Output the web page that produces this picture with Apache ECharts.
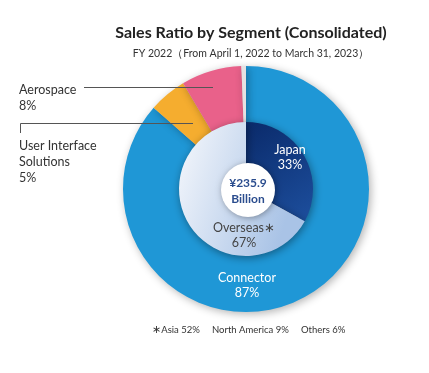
<!DOCTYPE html>
<html><head><meta charset="utf-8">
<script src="https://cdn.jsdelivr.net/npm/echarts@6/dist/echarts.min.js"></script>
<style>html,body{margin:0;padding:0;background:#fff}#c{width:429px;height:373px}</style>
</head><body><div id="c"></div>
<script>
const segments = ['Connector', 'User Interface Solutions', 'Aerospace'];
const segmentShares = [87, 5, 8];
const separatorShare = 0.6;
const regions = ['Japan', 'Overseas'];
const regionShares = [33, 67];
const totalLines = ['¥235.9', 'Billion'];
const overseasNames = ['Asia', 'North America', 'Others'];
const overseasShares = [52, 9, 6];

const F = 'Lato, "Open Sans", sans-serif';
const cx = 246, cy = 189;
const chart = echarts.init(document.getElementById('c'), null, {renderer: 'canvas'});

const segColors = ['#1f97d6', '#f5ad2f', '#e9618a'];
const navy = new echarts.graphic.LinearGradient(0, 0, 1, 1, [{offset: 0, color: '#0a2a6a'}, {offset: 1, color: '#1d4f9e'}]);
const light = new echarts.graphic.LinearGradient(0, 0, 1, 0.3, [{offset: 0, color: '#f6f8fc'}, {offset: 1, color: '#a9c3e6'}]);

const outerData = segments.map((n, i) => ({name: n, value: segmentShares[i], itemStyle: {color: segColors[i]}}));
outerData.push({name: 'sep', value: separatorShare, itemStyle: {color: '#e6e1e1'}});

const footText = '{a|∗}' + overseasNames.map((n, i) => n + ' ' + overseasShares[i] + '%').join('     ');

chart.setOption({
  animation: false,
  title: [
    {text: 'Sales Ratio by Segment (Consolidated)', left: cx, top: 20, textAlign: 'center',
     textStyle: {fontFamily: F, fontSize: 16, fontWeight: 'bold', color: '#222'}},
    {text: 'FY 2022（From April 1, 2022 to March 31, 2023）', left: cx, top: 43, textAlign: 'center',
     textStyle: {fontFamily: F, fontSize: 10.5, fontWeight: 'normal', color: '#333'}}
  ],
  series: [
    {type: 'pie', center: [cx, cy], radius: [60, 123], startAngle: 90, clockwise: true, silent: true,
     label: {show: false}, labelLine: {show: false},
     itemStyle: {shadowBlur: 8, shadowColor: 'rgba(0,0,0,0.3)', shadowOffsetX: 2, shadowOffsetY: 2},
     data: outerData},
    {type: 'pie', center: [cx, cy], radius: [0, 67], startAngle: 90, clockwise: true, silent: true,
     label: {show: false}, labelLine: {show: false},
     itemStyle: {shadowBlur: 8, shadowColor: 'rgba(0,0,0,0.4)', shadowOffsetX: 1, shadowOffsetY: 2},
     data: regions.map((n, i) => ({name: n, value: regionShares[i], itemStyle: {color: i === 0 ? navy : light}}))}
  ],
  graphic: [
    {type: 'circle', shape: {cx: cx + 2, cy: cy + 1, r: 27}, style: {fill: '#fff', shadowBlur: 6, shadowColor: 'rgba(0,0,0,0.35)', shadowOffsetX: 1, shadowOffsetY: 1}, z: 100},
    {type: 'text', x: cx + 2, y: cy - 6, style: {text: totalLines[0], fontFamily: F, fontSize: 12, fontWeight: 'bold', fill: '#2b4d8e', align: 'center', verticalAlign: 'middle'}, z: 101},
    {type: 'text', x: cx + 2, y: cy + 10, style: {text: totalLines[1], fontFamily: F, fontSize: 12, fontWeight: 'bold', fill: '#2b4d8e', align: 'center', verticalAlign: 'middle'}, z: 101},
    {type: 'text', x: 290, y: 157, style: {text: regions[0] + '\n' + regionShares[0] + '%', lineHeight: 15, fontFamily: F, fontSize: 12.5, fill: '#fff', align: 'center', verticalAlign: 'middle'}, z: 101},
    {type: 'text', x: 244, y: 235, style: {text: regions[1] + '∗\n' + regionShares[1] + '%', lineHeight: 15, fontFamily: F, fontSize: 12.5, fill: '#444', align: 'center', verticalAlign: 'middle'}, z: 101},
    {type: 'text', x: 247, y: 285, style: {text: segments[0] + '\n' + segmentShares[0] + '%', lineHeight: 15, fontFamily: F, fontSize: 12.5, fill: '#fff', align: 'center', verticalAlign: 'middle'}, z: 101},
    {type: 'text', x: 19, y: 82, style: {text: segments[2] + '\n' + segmentShares[2] + '%', lineHeight: 16, fontFamily: F, fontSize: 12.5, fill: '#333', align: 'left', verticalAlign: 'top'}, z: 101},
    {type: 'text', x: 19, y: 138, style: {text: 'User Interface\nSolutions\n' + segmentShares[1] + '%', lineHeight: 16, fontFamily: F, fontSize: 12.5, fill: '#333', align: 'left', verticalAlign: 'top'}, z: 101},
    {type: 'polyline', shape: {points: [[84, 87.5], [213, 87.5]]}, style: {stroke: '#555', lineWidth: 1}, z: 101},
    {type: 'polyline', shape: {points: [[20.5, 133], [20.5, 123.5], [193, 123.5]]}, style: {stroke: '#555', lineWidth: 1, fill: null}, z: 101},
    {type: 'text', x: 152, y: 330, style: {text: footText, fontFamily: F, fontSize: 9.5, fill: '#333', align: 'left', verticalAlign: 'middle',
      rich: {a: {fontFamily: '"DejaVu Sans", sans-serif', fontSize: 11, fill: '#333'}}}, z: 101}
  ]
});
</script></body></html>
